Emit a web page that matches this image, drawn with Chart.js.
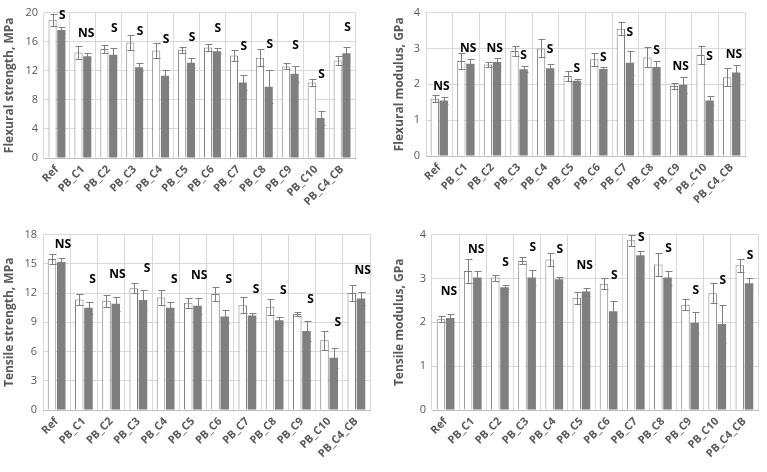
<!DOCTYPE html>
<html>
<head>
<meta charset="utf-8">
<script src="https://cdn.jsdelivr.net/npm/chart.js@4"></script>
<style>
  html, body { margin: 0; padding: 0; background: #fff; }
  body { width: 767px; height: 472px; position: relative; overflow: hidden; }
  .p { position: absolute; }
</style>
</head>
<body>
<div class="p" style="left:0px;top:0px;width:370px;height:222px"><canvas id="c1" width="370" height="222"></canvas></div>
<div class="p" style="left:390px;top:0px;width:377px;height:222px"><canvas id="c2" width="377" height="222"></canvas></div>
<div class="p" style="left:0px;top:222px;width:385px;height:250px"><canvas id="c3" width="385" height="250"></canvas></div>
<div class="p" style="left:390px;top:222px;width:377px;height:250px"><canvas id="c4" width="377" height="250"></canvas></div>
<script>
const categories = ['Ref','PB_C1','PB_C2','PB_C3','PB_C4','PB_C5','PB_C6','PB_C7','PB_C8','PB_C9','PB_C10','PB_C4_CB'];

// Flexural strength, MPa
const flexStrWhite    = [19.0, 14.5, 15.0, 15.9, 14.8, 14.9, 15.2, 14.1, 13.8, 12.6, 10.4, 13.4];
const flexStrWhiteErr = [0.8, 0.9, 0.5, 1.0, 1.0, 0.4, 0.5, 0.7, 1.2, 0.4, 0.5, 0.6];
const flexStrGrey     = [17.6, 14.0, 14.2, 12.5, 11.3, 13.1, 14.7, 10.4, 9.8, 11.6, 5.5, 14.4];
const flexStrGreyErr  = [0.4, 0.4, 0.9, 0.5, 0.8, 0.7, 0.4, 1.0, 2.3, 1.1, 1.0, 0.8];
const flexStrSig      = ['S','NS','S','S','S','S','S','S','S','S','S','S'];

// Flexural modulus, GPa
const flexModWhite    = [1.60, 2.65, 2.55, 2.93, 3.00, 2.23, 2.70, 3.55, 2.75, 1.95, 2.82, 2.20];
const flexModWhiteErr = [0.10, 0.23, 0.08, 0.15, 0.25, 0.14, 0.18, 0.18, 0.28, 0.08, 0.24, 0.26];
const flexModGrey     = [1.55, 2.57, 2.62, 2.42, 2.45, 2.10, 2.43, 2.60, 2.48, 1.99, 1.55, 2.33];
const flexModGreyErr  = [0.10, 0.14, 0.10, 0.08, 0.13, 0.06, 0.04, 0.33, 0.18, 0.22, 0.13, 0.22];
const flexModSig      = ['NS','NS','NS','S','S','S','S','S','S','NS','S','NS'];

// Tensile strength, MPa
const tenStrWhite     = [15.5, 11.35, 11.2, 12.5, 11.55, 11.0, 11.9, 10.75, 10.6, 9.85, 7.15, 12.0];
const tenStrWhiteErr  = [0.5, 0.6, 0.6, 0.5, 0.8, 0.5, 0.7, 0.8, 0.8, 0.2, 0.95, 0.85];
const tenStrGrey      = [15.2, 10.5, 10.9, 11.3, 10.5, 10.7, 9.6, 9.7, 9.2, 8.1, 5.35, 11.45];
const tenStrGreyErr   = [0.4, 0.6, 0.7, 1.0, 0.6, 0.8, 0.7, 0.3, 0.3, 1.0, 1.0, 0.65];
const tenStrSig       = ['NS','S','NS','S','S','NS','S','S','S','S','S','NS'];

// Tensile modulus, GPa
const tenModWhite     = [2.07, 3.17, 3.02, 3.40, 3.43, 2.56, 2.88, 3.87, 3.32, 2.40, 2.66, 3.30];
const tenModWhiteErr  = [0.07, 0.28, 0.07, 0.08, 0.15, 0.14, 0.12, 0.12, 0.26, 0.12, 0.23, 0.15];
const tenModGrey      = [2.10, 3.02, 2.80, 3.02, 2.98, 2.70, 2.25, 3.53, 3.02, 1.99, 1.96, 2.89];
const tenModGreyErr   = [0.10, 0.14, 0.05, 0.18, 0.06, 0.09, 0.23, 0.10, 0.16, 0.24, 0.43, 0.12];
const tenModSig       = ['NS','NS','S','S','S','NS','S','S','S','S','S','S'];

const FONT = "'Open Sans', 'Liberation Sans', sans-serif";

const errSigPlugin = {
  id: 'errSig',
  afterDatasetsDraw(chart, args, opts) {
    const ctx = chart.ctx;
    const ys = chart.scales.y;
    ctx.save();
    ctx.strokeStyle = '#7f7f7f';
    ctx.lineWidth = 1;
    chart.data.datasets.forEach((ds, i) => {
      const meta = chart.getDatasetMeta(i);
      meta.data.forEach((bar, j) => {
        const v = ds.data[j], e = ds.err[j];
        const yt = Math.round(ys.getPixelForValue(v + e)) + 0.5;
        const yb = Math.round(ys.getPixelForValue(v - e)) + 0.5;
        const x = Math.round(bar.x) + 0.5;
        ctx.beginPath();
        ctx.moveTo(x, yt); ctx.lineTo(x, yb);
        ctx.moveTo(x - 3, yt); ctx.lineTo(x + 4, yt);
        ctx.moveTo(x - 3, yb); ctx.lineTo(x + 4, yb);
        ctx.stroke();
      });
    });
    const m0 = chart.getDatasetMeta(0), m1 = chart.getDatasetMeta(1);
    const d0 = chart.data.datasets[0], d1 = chart.data.datasets[1];
    ctx.fillStyle = '#000';
    ctx.font = "bold 12px " + FONT;
    ctx.textAlign = 'center';
    ctx.textBaseline = 'middle';
    opts.sig.forEach((s, j) => {
      const wTop = ys.getPixelForValue(d0.data[j] + d0.err[j]);
      const gTop = ys.getPixelForValue(d1.data[j] + d1.err[j]);
      let y = Math.min(gTop - opts.a, wTop - opts.b);
      y = Math.max(y, chart.chartArea.top + opts.minTop);
      const gx = m1.data[j].x;
      const cx = (m0.data[j].x + m1.data[j].x) / 2;
      const x = (s === 'NS' ? (gx + cx) / 2 : gx) + opts.dx;
      ctx.fillText(s, x, y);
    });
    ctx.restore();
  }
};

function makeChart(id, cfg) {
  new Chart(document.getElementById(id), {
    type: 'bar',
    data: {
      labels: categories,
      datasets: [
        { data: cfg.white, err: cfg.whiteErr, backgroundColor: '#ffffff', borderColor: '#7f7f7f', borderWidth: 1,
          categoryPercentage: 0.68, barPercentage: 0.92 },
        { data: cfg.grey, err: cfg.greyErr, backgroundColor: '#7f7f7f', borderColor: '#7f7f7f', borderWidth: 0,
          categoryPercentage: 0.68, barPercentage: 0.92 }
      ]
    },
    options: {
      responsive: false,
      animation: false,
      devicePixelRatio: 1,
      layout: { padding: { left: 0, right: cfg.padRight, top: cfg.padTop, bottom: 0 } },
      plugins: {
        legend: { display: false },
        tooltip: { enabled: false },
        errSig: { sig: cfg.sig, a: cfg.a, b: cfg.b, dx: cfg.dx, minTop: cfg.minTop }
      },
      scales: {
        x: {
          grid: { color: '#d9d9d9', offset: true, drawTicks: false },
          border: { color: '#bfbfbf' },
          ticks: { color: '#595959', font: { family: FONT, size: 11, weight: 'bold' }, minRotation: 45, maxRotation: 45, autoSkip: false, padding: 5 },
          afterFit(scale) { scale.height = cfg.xHeight; }
        },
        y: {
          min: 0, max: cfg.max,
          grid: { color: '#d9d9d9', drawTicks: false },
          border: { display: false },
          ticks: { stepSize: cfg.step, color: '#595959', font: { family: FONT, size: 11 }, padding: 6 },
          title: { display: true, text: cfg.title, color: '#595959', font: { family: FONT, size: 12, weight: 'bold' }, padding: { top: 2, bottom: 2 } },
          afterFit(scale) { scale.width = cfg.yWidth; }
        }
      }
    },
    plugins: [errSigPlugin]
  });
}

makeChart('c1', { white: flexStrWhite, whiteErr: flexStrWhiteErr, grey: flexStrGrey, greyErr: flexStrGreyErr, sig: flexStrSig,
  max: 20, step: 4, title: 'Flexural strength, MPa', yWidth: 44, xHeight: 64, padRight: 15, padTop: 12, a: 20, b: 4, dx: 1, minTop: 3 });
makeChart('c2', { white: flexModWhite, whiteErr: flexModWhiteErr, grey: flexModGrey, greyErr: flexModGreyErr, sig: flexModSig,
  max: 4, step: 1, title: 'Flexural modulus, GPa', yWidth: 36, xHeight: 66, padRight: 22, padTop: 12, a: 10, b: -10, dx: 0, minTop: 3 });
makeChart('c3', { white: tenStrWhite, whiteErr: tenStrWhiteErr, grey: tenStrGrey, greyErr: tenStrGreyErr, sig: tenStrSig,
  max: 18, step: 3, title: 'Tensile strength, MPa', yWidth: 43, xHeight: 62, padRight: 15, padTop: 8, a: 22, b: 8, dx: 4, minTop: 10 });
makeChart('c4', { white: tenModWhite, whiteErr: tenModWhiteErr, grey: tenModGrey, greyErr: tenModGreyErr, sig: tenModSig,
  max: 4, step: 1, title: 'Tensile modulus, GPa', yWidth: 42, xHeight: 62, padRight: 9, padTop: 12, a: 22, b: 3, dx: 1, minTop: 3 });
</script>
</body>
</html>
